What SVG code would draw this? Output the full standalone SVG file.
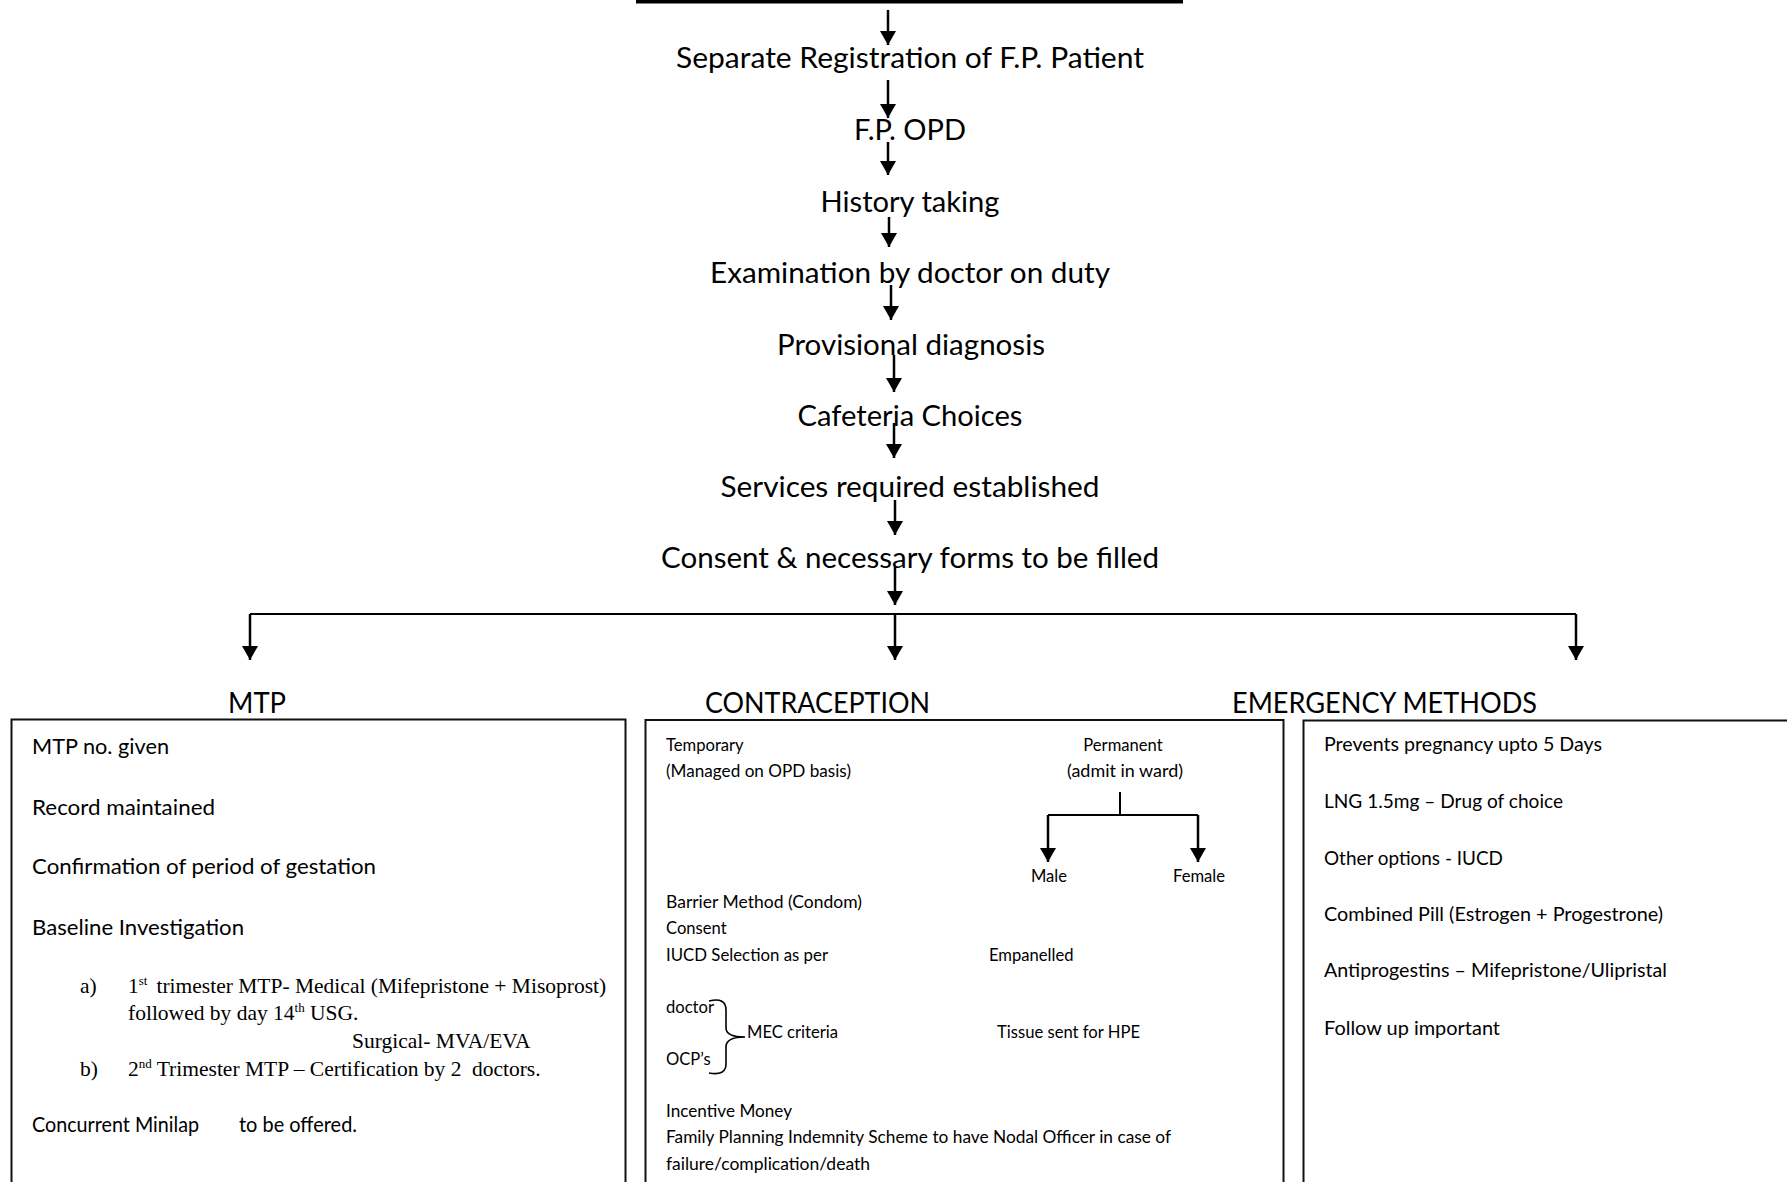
<svg xmlns="http://www.w3.org/2000/svg" width="1787" height="1182" viewBox="0 0 1787 1182">
<defs>
<style>
.main{font-family:Lato,"Open Sans",sans-serif;font-size:29px;fill:#000;text-anchor:middle}
.head{font-family:Lato,"Open Sans",sans-serif;font-size:29px;fill:#000}
.mtp{font-family:Lato,"Open Sans",sans-serif;font-size:21.6px;fill:#000}
.con{font-family:Lato,"Open Sans",sans-serif;font-size:16.6px;fill:#000}
.emg{font-family:Lato,"Open Sans",sans-serif;font-size:19.2px;fill:#000}
.tnr{font-family:"Liberation Serif","Times New Roman",serif;font-size:21.5px;fill:#000}
.sup{font-size:13px}
.box{fill:none;stroke:#111;stroke-width:2}
.arr{fill:none;stroke:#000;stroke-width:2.5;marker-end:url(#ah)}
.ln{fill:none;stroke:#000;stroke-width:2}
</style>
<marker id="ah" markerUnits="userSpaceOnUse" markerWidth="16" markerHeight="16" refX="14" refY="8" orient="auto">
<path d="M0,0 L14,8 L0,16 z" fill="#000"/>
</marker>
</defs>
<rect width="1787" height="1182" fill="#fff"/>

<g id="top-bar"><line x1="636" y1="1.5" x2="1183" y2="1.5" stroke="#000" stroke-width="4"/></g>

<g id="connectors">
<line class="arr" x1="888" y1="10" x2="888" y2="45"/>
<line class="arr" x1="888" y1="80" x2="888" y2="118"/>
<line class="arr" x1="888" y1="142" x2="888" y2="175"/>
<line class="arr" x1="889" y1="217" x2="889" y2="247"/>
<line class="arr" x1="891" y1="285" x2="891" y2="320"/>
<line class="arr" x1="894" y1="355" x2="894" y2="392"/>
<line class="arr" x1="894" y1="423" x2="894" y2="458"/>
<line class="arr" x1="895" y1="500" x2="895" y2="535"/>
<line class="arr" x1="895" y1="567" x2="895" y2="605"/>
<path class="ln" d="M250,614 H1576"/>
<line class="arr" x1="250" y1="614" x2="250" y2="660"/>
<line class="arr" x1="895" y1="614" x2="895" y2="660"/>
<line class="arr" x1="1576" y1="614" x2="1576" y2="660"/>
<line class="ln" x1="1120" y1="792" x2="1120" y2="815"/>
<path class="ln" d="M1048,815 H1198"/>
<line class="arr" x1="1048" y1="815" x2="1048" y2="862"/>
<line class="arr" x1="1198" y1="815" x2="1198" y2="862"/>
</g>

<g id="registration"><text class="main" x="910" y="68" textLength="468" lengthAdjust="spacingAndGlyphs">Separate Registration of F.P. Patient</text></g>
<g id="fp-opd"><text class="main" x="910" y="140" textLength="112" lengthAdjust="spacingAndGlyphs">F.P. OPD</text></g>
<g id="history"><text class="main" x="910" y="212" textLength="179" lengthAdjust="spacingAndGlyphs">History taking</text></g>
<g id="examination"><text class="main" x="910" y="283" textLength="400" lengthAdjust="spacingAndGlyphs">Examination by doctor on duty</text></g>
<g id="provisional"><text class="main" x="911" y="355" textLength="268" lengthAdjust="spacingAndGlyphs">Provisional diagnosis</text></g>
<g id="cafeteria"><text class="main" x="910" y="426" textLength="225" lengthAdjust="spacingAndGlyphs">Cafeteria Choices</text></g>
<g id="services"><text class="main" x="910" y="497" textLength="379" lengthAdjust="spacingAndGlyphs">Services required established</text></g>
<g id="consent"><text class="main" x="910" y="568" textLength="498" lengthAdjust="spacingAndGlyphs">Consent &amp; necessary forms to be filled</text></g>

<g id="mtp">
<text class="head" x="228" y="713" textLength="58" lengthAdjust="spacingAndGlyphs">MTP</text>
<rect class="box" x="11.5" y="719.5" width="614" height="500"/>
<text class="mtp" x="32" y="754" textLength="137" lengthAdjust="spacingAndGlyphs">MTP no. given</text>
<text class="mtp" x="32" y="815" textLength="183" lengthAdjust="spacingAndGlyphs">Record maintained</text>
<text class="mtp" x="32" y="874" textLength="344" lengthAdjust="spacingAndGlyphs">Confirmation of period of gestation</text>
<text class="mtp" x="32" y="935" textLength="212" lengthAdjust="spacingAndGlyphs">Baseline Investigation</text>
<text class="tnr" x="80" y="993">a)</text>
<text class="tnr" x="128" y="993">1<tspan class="sup" dy="-8">st</tspan><tspan dy="8" dx="9">trimester MTP- Medical (Mifepristone + Misoprost)</tspan></text>
<text class="tnr" x="128" y="1020">followed by day 14<tspan class="sup" dy="-8">th</tspan><tspan dy="8"> USG.</tspan></text>
<text class="tnr" x="352" y="1048">Surgical- MVA/EVA</text>
<text class="tnr" x="80" y="1076">b)</text>
<text class="tnr" x="128" y="1076">2<tspan class="sup" dy="-8">nd</tspan><tspan dy="8"> Trimester MTP – Certification by 2 </tspan><tspan dx="5">doctors.</tspan></text>
<text class="mtp" x="32" y="1132" textLength="167" lengthAdjust="spacingAndGlyphs">Concurrent Minilap</text>
<text class="mtp" x="239" y="1132" textLength="118" lengthAdjust="spacingAndGlyphs">to be offered.</text>
</g>

<g id="contraception">
<text class="head" x="705" y="713" textLength="225" lengthAdjust="spacingAndGlyphs">CONTRACEPTION</text>
<rect class="box" x="645.5" y="720" width="638" height="500"/>
<text class="con" x="666" y="751">Temporary</text>
<text class="con" x="666" y="777" textLength="185" lengthAdjust="spacingAndGlyphs">(Managed on OPD basis)</text>
<text class="con" x="1123" y="751" text-anchor="middle">Permanent</text>
<text class="con" x="1125" y="777" text-anchor="middle" textLength="116" lengthAdjust="spacingAndGlyphs">(admit in ward)</text>
<text class="con" x="1049" y="882" text-anchor="middle">Male</text>
<text class="con" x="1199" y="882" text-anchor="middle">Female</text>
<text class="con" x="666" y="908" textLength="196" lengthAdjust="spacingAndGlyphs">Barrier Method (Condom)</text>
<text class="con" x="666" y="934">Consent</text>
<text class="con" x="666" y="961" textLength="162" lengthAdjust="spacingAndGlyphs">IUCD Selection as per</text>
<text class="con" x="989" y="961">Empanelled</text>
<text class="con" x="666" y="1013">doctor</text>
<path d="M709,1001 Q726,997 726,1010 L726,1028 Q726,1037 745,1037 Q726,1037 726,1047 L726,1064 Q726,1076 709,1073" fill="none" stroke="#000" stroke-width="1.6"/>
<text class="con" x="747" y="1038">MEC criteria</text>
<text class="con" x="997" y="1038" textLength="143" lengthAdjust="spacingAndGlyphs">Tissue sent for HPE</text>
<text class="con" x="666" y="1065">OCP’s</text>
<text class="con" x="666" y="1117" textLength="126" lengthAdjust="spacingAndGlyphs">Incentive Money</text>
<text class="con" x="666" y="1143" textLength="505" lengthAdjust="spacingAndGlyphs">Family Planning Indemnity Scheme to have Nodal Officer in case of</text>
<text class="con" x="666" y="1170" textLength="204" lengthAdjust="spacingAndGlyphs">failure/complication/death</text>
</g>

<g id="emergency">
<text class="head" x="1232" y="713" textLength="305" lengthAdjust="spacingAndGlyphs">EMERGENCY METHODS</text>
<path class="box" d="M1303.5,1200 V720.5 H1800"/>
<text class="emg" x="1324" y="751" textLength="278" lengthAdjust="spacingAndGlyphs">Prevents pregnancy upto 5 Days</text>
<text class="emg" x="1324" y="808" textLength="239" lengthAdjust="spacingAndGlyphs">LNG 1.5mg – Drug of choice</text>
<text class="emg" x="1324" y="865" textLength="179" lengthAdjust="spacingAndGlyphs">Other options - IUCD</text>
<text class="emg" x="1324" y="921" textLength="339" lengthAdjust="spacingAndGlyphs">Combined Pill (Estrogen + Progestrone)</text>
<text class="emg" x="1324" y="977" textLength="343" lengthAdjust="spacingAndGlyphs">Antiprogestins – Mifepristone/Ulipristal</text>
<text class="emg" x="1324" y="1035" textLength="176" lengthAdjust="spacingAndGlyphs">Follow up important</text>
</g>
</svg>
